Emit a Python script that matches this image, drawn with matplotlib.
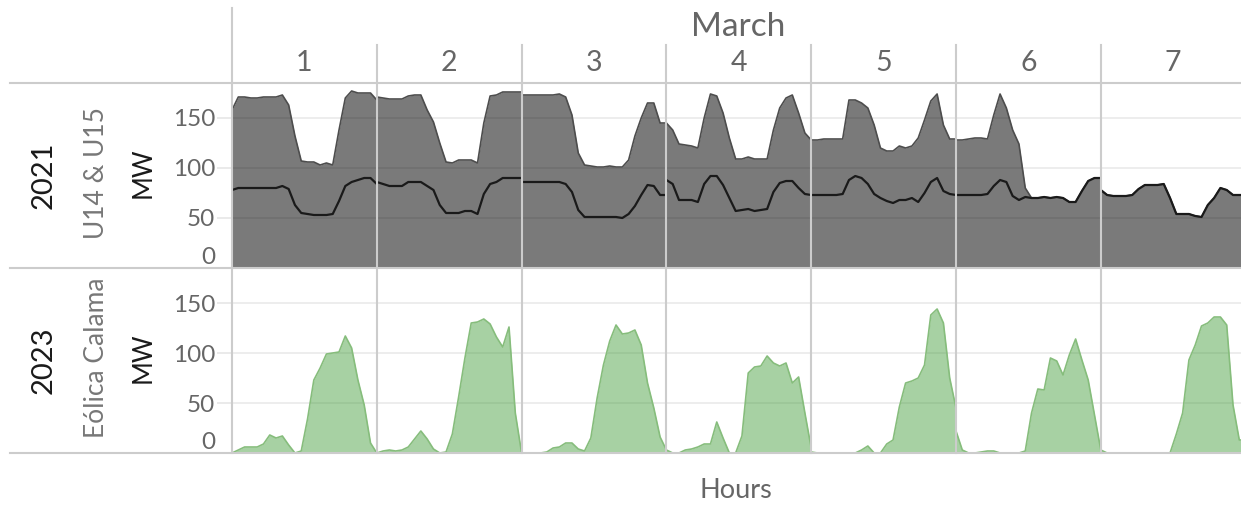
import matplotlib.pyplot as plt
from matplotlib.lines import Line2D
import numpy as np

plt.rcParams['font.family'] = ['Lato', 'DejaVu Sans']

days = [1, 2, 3, 4, 5, 6, 7]
hours = np.arange(24)
yticks = [0, 50, 100, 150]
yticklabels = ['0', '50', '100', '150']

# 2021: U14 & U15 together (MW), one row per day of March
total_2021 = [
    [158, 171, 171, 170, 170, 171, 171, 171, 173, 163, 132, 107, 106, 106, 103, 105, 103, 138, 170, 177, 175, 175, 175, 168],
    [171, 170, 169, 169, 169, 172, 173, 173, 158, 146, 125, 106, 105, 108, 108, 108, 105, 145, 172, 173, 176, 176, 176, 176],
    [173, 173, 173, 173, 173, 173, 174, 171, 153, 115, 103, 102, 101, 101, 102, 101, 101, 108, 132, 150, 165, 165, 145, 145],
    [145, 138, 124, 123, 122, 120, 150, 174, 172, 155, 130, 109, 109, 111, 109, 109, 109, 138, 160, 170, 173, 155, 135, 128],
    [128, 128, 129, 129, 129, 129, 168, 168, 165, 160, 143, 120, 117, 117, 122, 120, 122, 130, 148, 167, 174, 143, 129, 129],
    [128, 128, 129, 130, 130, 129, 153, 174, 160, 138, 124, 80, 70, 70, 71, 70, 71, 70, 66, 66, 77, 87, 90, 90],
    [78, 73, 72, 72, 72, 73, 79, 83, 83, 83, 84, 70, 54, 54, 54, 52, 51, 63, 70, 80, 78, 73, 73, 73],
]

# 2021: U14 alone (MW)
u14_2021 = [
    [78, 80, 80, 80, 80, 80, 80, 80, 82, 79, 63, 55, 54, 53, 53, 53, 54, 67, 82, 86, 88, 90, 90, 84],
    [86, 84, 82, 82, 82, 86, 86, 86, 82, 78, 63, 55, 55, 55, 57, 57, 54, 74, 84, 86, 90, 90, 90, 90],
    [86, 86, 86, 86, 86, 86, 86, 84, 76, 58, 51, 51, 51, 51, 51, 51, 50, 54, 62, 73, 83, 82, 73, 73],
    [88, 84, 68, 68, 68, 66, 84, 92, 92, 83, 70, 57, 58, 59, 57, 58, 59, 76, 85, 87, 87, 80, 74, 73],
    [73, 73, 73, 73, 73, 74, 88, 92, 90, 84, 74, 70, 67, 65, 68, 68, 70, 66, 75, 86, 90, 77, 74, 73],
    [73, 73, 73, 73, 73, 74, 82, 88, 86, 72, 68, 71, 70, 70, 71, 70, 71, 70, 66, 66, 77, 87, 90, 90],
    [78, 73, 72, 72, 72, 73, 79, 83, 83, 83, 84, 70, 54, 54, 54, 52, 51, 63, 70, 80, 78, 73, 73, 73],
]

# 2023: Eólica Calama (MW)
calama_2023 = [
    [0, 3, 6, 6, 6, 9, 18, 15, 17, 8, 0, 2, 34, 73, 85, 99, 100, 101, 117, 105, 73, 48, 10, 0],
    [0, 2, 3, 2, 3, 6, 14, 22, 14, 4, 0, 1, 19, 56, 95, 130, 131, 134, 129, 116, 106, 126, 40, 0],
    [0, 0, 0, 0, 1, 5, 6, 10, 10, 4, 2, 15, 55, 88, 112, 128, 119, 120, 123, 108, 70, 45, 16, 3],
    [3, 0, 0, 3, 4, 6, 9, 9, 31, 15, 0, 0, 17, 80, 86, 87, 97, 90, 87, 90, 70, 76, 40, 5],
    [1, 0, 0, 0, 0, 0, 0, 0, 3, 7, 0, 0, 9, 13, 46, 70, 72, 75, 88, 138, 144, 130, 75, 45],
    [22, 3, 0, 0, 1, 2, 2, 0, 0, 0, 0, 2, 40, 64, 63, 95, 92, 78, 98, 114, 93, 73, 38, 3],
    [3, 0, 0, 0, 0, 0, 0, 0, 0, 0, 0, 0, 19, 40, 93, 108, 127, 130, 136, 136, 128, 48, 13, 13],
]

W, H = 1241, 505
fig = plt.figure(figsize=(W / 100, H / 100), dpi=100)

x0 = 232
pw = 144.8
rows = [(83, 268), (268, 453)]
grey = '#666666'

for r, (ytop, ybot) in enumerate(rows):
    for i, d in enumerate(days):
        ax = fig.add_axes([(x0 + i * pw) / W, 1 - ybot / H, pw / W, (ybot - ytop) / H])
        if r == 0:
            ax.fill_between(hours, 0, total_2021[i], color='black', alpha=0.52, lw=0)
            ax.plot(hours, total_2021[i], color='#4d4d4d', lw=1.2)
            ax.plot(hours, u14_2021[i], color='#1a1a1a', lw=1.6)
        else:
            ax.fill_between(hours, 0, calama_2023[i], color='#3d9933', alpha=0.45, lw=0)
            ax.plot(hours, calama_2023[i], color='#86bd7c', lw=1.2)
        ax.set_xlim(0, 23)
        ax.set_ylim(0, 185)
        ax.set_xticks([])
        ax.set_yticks(yticks)
        ax.set_axisbelow(True)
        ax.yaxis.grid(True, color='#ececec', lw=1.3)
        for s in ax.spines.values():
            s.set_visible(False)
        if i == 0:
            ax.tick_params(axis='y', length=10.5, width=1.2, color='#e6e6e6', pad=1.5,
                           labelsize=17.5, labelcolor=grey)
            ax.set_yticklabels(yticklabels)
            ax.get_yticklabels()[0].set_va('bottom')
        else:
            ax.tick_params(axis='y', length=0)
            ax.set_yticklabels([])

# frame lines of the grid
lc = '#cccccc'
for y in [83, 268, 453]:
    fig.add_artist(Line2D([10 / W, 1], [1 - y / H, 1 - y / H], color=lc, lw=1.5))
fig.add_artist(Line2D([x0 / W, x0 / W], [1 - 8 / H, 1 - 453 / H], color=lc, lw=1.5))
for i in range(1, 7):
    xs = (x0 + i * pw) / W
    fig.add_artist(Line2D([xs, xs], [1 - 45 / H, 1 - 453 / H], color=lc, lw=1.5))

# header
fig.text(738 / W, 1 - 27 / H, 'March', ha='center', va='center', fontsize=24, color=grey)
for i, d in enumerate(days):
    fig.text((x0 + (i + 0.5) * pw) / W, 1 - 63 / H, str(d), ha='center', va='center',
             fontsize=20.5, color=grey)

# row labels
for yc, year, name in [(175, '2021', 'U14 & U15'), (360, '2023', 'Eólica Calama')]:
    fig.text(44 / W, 1 - yc / H, year, rotation=90, ha='center', va='center',
             fontsize=21, color='#1a1a1a')
    fig.text(96 / W, 1 - (yc - 2) / H, name, rotation=90, ha='center', va='center',
             fontsize=19, color='#777777')
    fig.text(143 / W, 1 - (yc - 2) / H, 'MW', rotation=90, ha='center', va='center',
             fontsize=18.5, color='#1a1a1a')

fig.text(736 / W, 1 - 491 / H, 'Hours', ha='center', va='center', fontsize=19.5, color=grey)

fig.savefig('out.png', dpi=100)
